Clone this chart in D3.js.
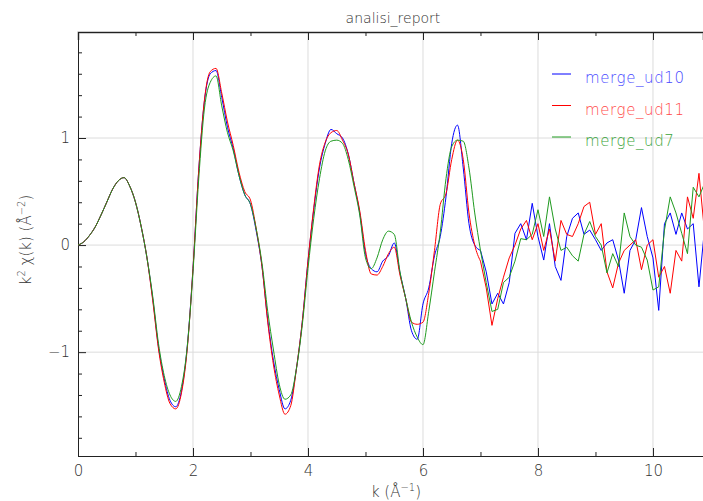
<!DOCTYPE html>
<html>
<head>
<meta charset="utf-8">
<script src="https://cdn.jsdelivr.net/npm/d3@7"></script>
<style>
  body { margin: 0; background: #fff; }
  text { font-family: "DejaVu Sans", sans-serif; fill: #333; }
</style>
</head>
<body>
<div id="chart"></div>
<script>
// k grid (Å^-1), step 0.1
const kValues = d3.range(0, 110).map(i => +(i * 0.1).toFixed(1));

const ud10 = [
  0, 0.03, 0.09, 0.17, 0.28, 0.40, 0.52, 0.60, 0.63, 0.55,
  0.40, 0.17, -0.12, -0.50, -0.95, -1.25, -1.45, -1.51, -1.36, -0.95,
  -0.22, 0.70, 1.35, 1.60, 1.63, 1.38, 1.10, 0.90, 0.65, 0.47,
  0.38, 0.13, -0.20, -0.70, -1.08, -1.35, -1.53, -1.45, -1.15, -0.72,
  -0.15, 0.33, 0.72, 0.95, 1.08, 1.04, 1.00, 0.85, 0.58, 0.30,
  -0.08, -0.22, -0.25, -0.15, -0.10, 0.02, -0.26, -0.50, -0.80, -0.88,
  -0.55, -0.40, -0.10, 0.08, 0.45, 0.95, 1.12, 0.72, 0.20, 0.00,
  -0.05, -0.25, -0.55, -0.45, -0.55, -0.35, 0.11, 0.20, 0.05, 0.39,
  0.08, -0.14, 0.20, -0.20, -0.33, 0.08, 0.25, 0.30, 0.10, 0.14,
  0.05, -0.05, 0.02, 0.05, -0.14, -0.45, -0.05, 0.05, 0.35, 0.08,
  -0.12, -0.61, 0.20, 0.30, 0.10, 0.30, 0.15, 0.20, -0.39, 0.17
];

const ud11 = [
  0, 0.03, 0.09, 0.17, 0.28, 0.40, 0.52, 0.60, 0.63, 0.55,
  0.40, 0.17, -0.12, -0.52, -0.97, -1.28, -1.48, -1.53, -1.38, -0.97,
  -0.22, 0.70, 1.36, 1.62, 1.65, 1.42, 1.15, 0.93, 0.68, 0.50,
  0.42, 0.15, -0.20, -0.72, -1.12, -1.40, -1.58, -1.50, -1.15, -0.72,
  -0.15, 0.35, 0.75, 0.96, 1.05, 1.07, 0.98, 0.85, 0.58, 0.32,
  -0.05, -0.27, -0.28, -0.20, -0.08, -0.02, -0.28, -0.50, -0.72, -0.74,
  -0.72, -0.45, -0.05, 0.38, 0.48, 0.80, 0.98, 0.80, 0.30, 0.00,
  -0.15, -0.40, -0.75, -0.50, -0.30, -0.12, 0.00, 0.15, 0.23, 0.05,
  0.20, -0.05, 0.15, -0.15, 0.23, 0.10, 0.08, 0.20, 0.36, 0.40,
  0.10, 0.20, -0.25, -0.40, -0.17, -0.05, 0.00, 0.05, -0.23, 0.00,
  0.05, -0.30, -0.20, -0.45, -0.05, -0.15, 0.45, 0.25, 0.67, 0.10
];

const ud7 = [
  0, 0.03, 0.09, 0.17, 0.28, 0.40, 0.52, 0.60, 0.63, 0.55,
  0.40, 0.17, -0.12, -0.48, -0.92, -1.22, -1.40, -1.46, -1.32, -0.95,
  -0.25, 0.62, 1.28, 1.52, 1.58, 1.30, 1.05, 0.88, 0.65, 0.47,
  0.38, 0.15, -0.17, -0.62, -0.98, -1.30, -1.44, -1.40, -1.15, -0.75,
  -0.22, 0.25, 0.62, 0.88, 0.97, 0.98, 0.95, 0.80, 0.55, 0.28,
  -0.12, -0.22, -0.12, 0.05, 0.13, 0.10, -0.25, -0.50, -0.72, -0.86,
  -0.93, -0.62, -0.25, 0.12, 0.62, 0.92, 0.98, 0.97, 0.72, 0.30,
  -0.05, -0.35, -0.62, -0.60, -0.35, -0.30, -0.15, 0.06, 0.05, 0.10,
  0.33, 0.08, 0.45, 0.15, -0.05, -0.02, -0.10, -0.15, 0.10, 0.22,
  0.08, 0.00, -0.26, -0.08, -0.20, 0.30, 0.08, 0.00, -0.02, -0.14,
  -0.42, -0.39, 0.14, 0.45, 0.30, 0.11, -0.08, 0.54, 0.45, 0.58
];

const seriesNames = ["merge_ud10", "merge_ud11", "merge_ud7"];
const seriesColors = ["#0000ff", "#ff0000", "#1f9a1f"];
const legendColors = ["#4a4aff", "#ff4a4a", "#3aa33a"];
const xTicks = [0, 2, 4, 6, 8, 10];
const yTicks = [-1, 0, 1];

const width = 703, height = 501;
const mLeft = 78, mTop = 32, mRight = 703, mBottom = 456;

const svg = d3.select("#chart").append("svg")
    .attr("width", width)
    .attr("height", height);

const x = d3.scaleLinear().domain([0, 10.87]).range([mLeft, mRight]);
const y = d3.scaleLinear().domain([-1.97, 1.99]).range([mBottom, mTop]);

// grid
svg.append("g").selectAll("line").data(xTicks.filter(d => d > 0)).enter().append("line")
    .attr("x1", d => x(d)).attr("x2", d => x(d))
    .attr("y1", mTop).attr("y2", mBottom)
    .attr("stroke", "#dcdcdc");
svg.append("g").selectAll("line").data(yTicks).enter().append("line")
    .attr("x1", mLeft).attr("x2", mRight)
    .attr("y1", d => y(d)).attr("y2", d => y(d))
    .attr("stroke", "#dcdcdc");

// axes with inward ticks
const xMinor = d3.range(1, 11, 2);
const yMinor = d3.range(-9, 10).map(i => i / 5).filter(v => Math.abs(v % 1) > 0.01);

svg.append("g").attr("transform", `translate(0,${mBottom})`)
    .call(d3.axisBottom(x).tickValues(xTicks).tickSize(-8).tickPadding(9)
        .tickFormat(d3.format("d")));
svg.append("g").attr("transform", `translate(0,${mBottom})`)
    .call(d3.axisBottom(x).tickValues(xMinor).tickSize(-4).tickFormat(""));

const topAxis = svg.append("g").attr("transform", `translate(0,${mTop})`)
    .call(d3.axisTop(x).tickValues(xTicks).tickSize(-8).tickFormat(""));
svg.append("g").attr("transform", `translate(0,${mTop})`)
    .call(d3.axisTop(x).tickValues(xMinor).tickSize(-4).tickFormat(""));

svg.append("g").attr("transform", `translate(${mLeft},0)`)
    .call(d3.axisLeft(y).tickValues(yTicks).tickSize(-8).tickPadding(8)
        .tickFormat(d => d < 0 ? "\u2212" + Math.abs(d) : d));
svg.append("g").attr("transform", `translate(${mLeft},0)`)
    .call(d3.axisLeft(y).tickValues(yMinor).tickSize(-4).tickFormat(""));

svg.selectAll(".domain").attr("stroke", "#222");
svg.selectAll(".tick line").attr("stroke", "#222");
svg.selectAll(".tick text").attr("font-size", 15).attr("fill", "#333")
    .attr("font-family", "DejaVu Sans").attr("font-weight", 200);
topAxis.select(".domain").attr("stroke", "#999").attr("stroke-width", 2);

// series: smooth oscillations drawn with a monotone curve, the noisy tail straight
const splitIndex = 70; // k = 7.0
const smoothLine = d3.line()
    .x(d => x(d[0])).y(d => y(d[1]))
    .curve(d3.curveMonotoneX);
const noisyLine = d3.line()
    .x(d => x(d[0])).y(d => y(d[1]));
[ud10, ud11, ud7].forEach((s, i) => {
  const pts = s.map((v, j) => [kValues[j], v]);
  svg.append("path")
      .attr("fill", "none")
      .attr("stroke", seriesColors[i])
      .attr("stroke-width", 1)
      .attr("d", smoothLine(pts.slice(0, splitIndex + 1)) + noisyLine(pts.slice(splitIndex)).replace(/^M/, "L"));
});

// legend
const legend = svg.append("g");
seriesNames.forEach((name, i) => {
  const ly = 74 + i * 31.5;
  legend.append("line")
      .attr("x1", 552).attr("x2", 571).attr("y1", ly).attr("y2", ly)
      .attr("stroke", seriesColors[i]);
  legend.append("text")
      .attr("x", 585).attr("y", ly + 9)
      .attr("font-size", 15).attr("font-weight", 200)
      .attr("letter-spacing", 0.6)
      .style("fill", legendColors[i])
      .text(name);
});

// title and labels
svg.append("text")
    .attr("x", 393).attr("y", 23)
    .attr("text-anchor", "middle")
    .attr("font-size", 14).attr("font-weight", 200)
    .text("analisi_report");

const xl = svg.append("text")
    .attr("x", 396).attr("y", 497)
    .attr("text-anchor", "middle")
    .attr("font-size", 15).attr("font-weight", 200);
xl.append("tspan").text("k (Å");
xl.append("tspan").attr("dy", -6).attr("font-size", 10).text("\u22121");
xl.append("tspan").attr("dy", 6).text(")");

const yl = svg.append("text")
    .attr("transform", "translate(31,240) rotate(-90)")
    .attr("text-anchor", "middle")
    .attr("font-size", 15).attr("font-weight", 200);
yl.append("tspan").text("k");
yl.append("tspan").attr("dy", -6).attr("font-size", 10).text("2");
yl.append("tspan").attr("dy", 6).text(" χ(k) (Å");
yl.append("tspan").attr("dy", -6).attr("font-size", 10).text("\u22122");
yl.append("tspan").attr("dy", 6).text(")");
</script>
</body>
</html>
